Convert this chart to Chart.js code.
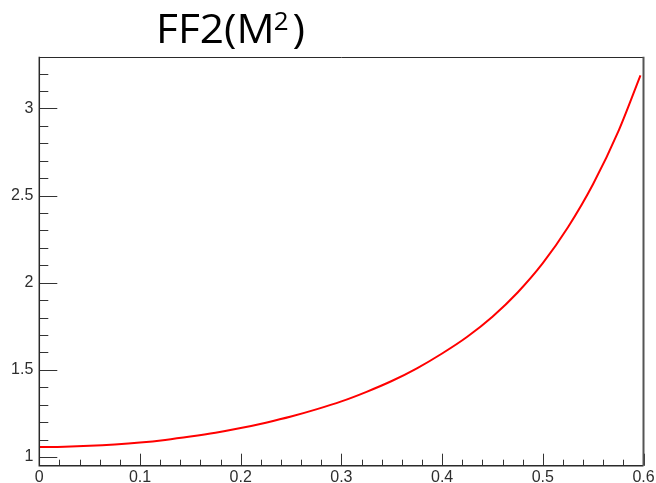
<!DOCTYPE html>
<html>
<head>
<meta charset="utf-8">
<title>FF2(M²)</title>
<script src="https://cdn.jsdelivr.net/npm/chart.js@4.4.1/dist/chart.umd.min.js"></script>
<style>
  html, body { margin: 0; padding: 0; background: #ffffff; }
  #wrap { width: 656px; height: 483px; }
</style>
</head>
<body>
<div id="wrap"><canvas id="ff2" width="656" height="483"></canvas></div>
<script>
// Form factor FF2 as a function of M^2
const m2Values  = [0, 0.025, 0.05, 0.075, 0.10, 0.125, 0.15, 0.175, 0.20, 0.225, 0.25, 0.275,
                   0.30, 0.325, 0.35, 0.375, 0.40, 0.425, 0.45, 0.475, 0.50, 0.525, 0.55, 0.575, 0.597];
const ff2Values = [1.057, 1.059, 1.064, 1.072, 1.083, 1.098, 1.117, 1.139, 1.166, 1.197, 1.232, 1.273,
                   1.319, 1.374, 1.436, 1.509, 1.594, 1.690, 1.805, 1.944, 2.112, 2.318, 2.566, 2.868, 3.190];

// Axis tick values and their labels
const xTickValues = [0, 0.1, 0.2, 0.3, 0.4, 0.5, 0.6];
const xTickLabels = ['0', '0.1', '0.2', '0.3', '0.4', '0.5', '0.6'];
const yTickValues = [1, 1.5, 2, 2.5, 3];
const yTickLabels = ['1', '1.5', '2', '2.5', '3'];

const points = m2Values.map((x, i) => ({ x: x, y: ff2Values[i] }));

const labelFont = { family: '"Liberation Sans", Arial, sans-serif', size: 16 };

// Frame with inward major/minor tick marks
const framePlugin = {
  id: 'frame',
  afterDraw(chart) {
    const ctx = chart.ctx;
    const { left, right, top, bottom } = chart.chartArea;
    const xs = chart.scales.x, ys = chart.scales.y;
    ctx.save();
    ctx.strokeStyle = '#333333';
    ctx.lineWidth = 1;
    // y ticks every 0.1, majors every 0.5
    for (let k = 0; k <= 40; k++) {
      const v = k / 10;
      if (v < ys.min || v > ys.max) continue;
      const py = Math.round(ys.getPixelForValue(v)) + 0.5;
      const len = (k % 5 === 0) ? 18 : 9;
      ctx.beginPath();
      ctx.moveTo(left, py);
      ctx.lineTo(left + len, py);
      ctx.stroke();
    }
    // x ticks every 0.02, majors every 0.1
    for (let k = 0; k <= 30; k++) {
      const v = k * 0.02;
      if (v < xs.min - 1e-9 || v > xs.max + 1e-9) continue;
      const px = Math.round(xs.getPixelForValue(v)) + 0.5;
      const len = (k % 5 === 0) ? 12 : 6;
      ctx.beginPath();
      ctx.moveTo(px, bottom);
      ctx.lineTo(px, bottom - len);
      ctx.stroke();
    }
    // frame
    ctx.strokeStyle = '#2a2a2a';
    ctx.lineWidth = 1.5;
    ctx.beginPath();
    ctx.moveTo(left, top);
    ctx.lineTo(left, bottom);
    ctx.lineTo(right, bottom);
    ctx.stroke();
    ctx.lineWidth = 1;
    ctx.beginPath();
    ctx.moveTo(left, Math.round(top) + 0.5);
    ctx.lineTo(right, Math.round(top) + 0.5);
    ctx.stroke();
    ctx.strokeStyle = '#555555';
    ctx.lineWidth = 2;
    ctx.beginPath();
    ctx.moveTo(right, top);
    ctx.lineTo(right, bottom);
    ctx.stroke();
    ctx.restore();
  }
};

// Title "FF2(M²)" with a raised exponent
const titlePlugin = {
  id: 'ff2Title',
  afterDraw(chart) {
    const ctx = chart.ctx;
    const family = '"Open Sans", "Noto Sans", sans-serif';
    const base = 43;
    const stretch = 1.06;
    ctx.save();
    ctx.fillStyle = '#000000';
    ctx.textBaseline = 'alphabetic';
    ctx.textAlign = 'left';
    const main = 'FF2(M';
    ctx.font = '40px ' + family;
    const mainW = ctx.measureText(main).width * stretch;
    ctx.save();
    ctx.translate(156, base);
    ctx.scale(stretch, 1);
    ctx.fillText(main, 0, 0);
    ctx.restore();
    let x = 156 + mainW - 1;
    ctx.font = '26px ' + family;
    ctx.fillText('2', x, base - 13);
    x += ctx.measureText('2').width + 4;
    ctx.save();
    ctx.font = '40px ' + family;
    ctx.translate(x, base);
    ctx.scale(stretch, 1);
    ctx.fillText(')', 0, 0);
    ctx.restore();
    ctx.restore();
  }
};

new Chart(document.getElementById('ff2'), {
  type: 'line',
  data: {
    datasets: [{
      label: 'FF2',
      data: points,
      borderColor: '#ff0000',
      borderWidth: 2,
      pointRadius: 0,
      fill: false,
      cubicInterpolationMode: 'monotone'
    }]
  },
  options: {
    responsive: false,
    animation: false,
    devicePixelRatio: 1,
    layout: { padding: { left: 0, right: 12.5, top: 56.7, bottom: 0 } },
    plugins: {
      legend: { display: false },
      title: { display: false },
      tooltip: { enabled: false }
    },
    scales: {
      x: {
        type: 'linear',
        min: 0,
        max: 0.6,
        grid: { display: false, drawTicks: false },
        border: { display: false },
        afterBuildTicks: s => { s.ticks = xTickValues.map(v => ({ value: v })); },
        ticks: {
          font: labelFont,
          color: '#2e2e2e',
          padding: 2,
          maxRotation: 0,
          autoSkip: false,
          callback: (v, i) => xTickLabels[i]
        },
        afterFit: s => { s.height = 17.3; s.paddingLeft = 0; s.paddingRight = 0; }
      },
      y: {
        type: 'linear',
        min: 0.95,
        max: 3.297,
        grid: { display: false, drawTicks: false },
        border: { display: false },
        afterBuildTicks: s => { s.ticks = yTickValues.map(v => ({ value: v })); },
        ticks: {
          font: labelFont,
          color: '#2e2e2e',
          padding: 6,
          autoSkip: false,
          callback: (v, i) => yTickLabels[i]
        },
        afterFit: s => { s.width = 39.3; s.paddingTop = 0; s.paddingBottom = 0; }
      }
    }
  },
  plugins: [framePlugin, titlePlugin]
});
</script>
</body>
</html>
